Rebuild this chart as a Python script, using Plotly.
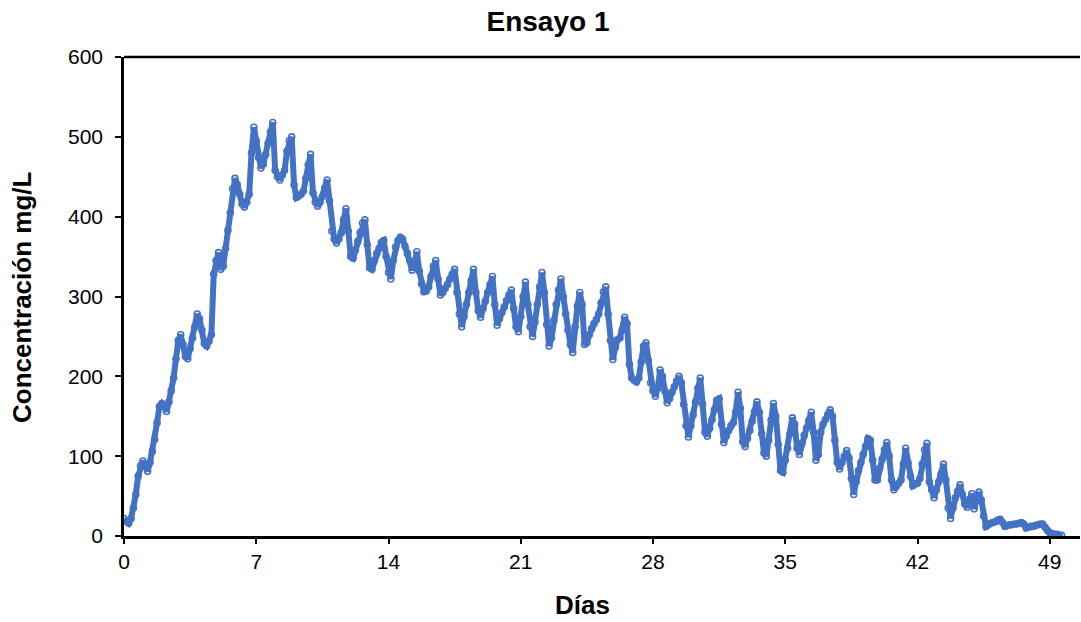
import plotly.graph_objects as go

# Concentration readings, 8 per day (every 3 h), one row per day
conc_by_day = [
    [22, 18, 16, 22, 35, 52, 75, 88],            # 0
    [94, 88, 81, 92, 106, 121, 142, 162],        # 1
    [166, 162, 156, 168, 182, 198, 222, 245],    # 2
    [252, 240, 225, 222, 235, 248, 262, 278],    # 3
    [272, 258, 241, 238, 244, 252, 328, 345],    # 4
    [355, 334, 338, 360, 383, 405, 435, 448],    # 5
    [440, 428, 416, 412, 418, 428, 480, 512],    # 6
    [495, 474, 461, 466, 478, 492, 506, 518],    # 7
    [458, 450, 446, 452, 458, 482, 495, 500],    # 8
    [440, 424, 426, 428, 432, 448, 465, 478],    # 9
    [430, 418, 413, 418, 425, 436, 446, 420],    # 10
    [382, 372, 367, 372, 380, 396, 410, 382],    # 11
    [350, 348, 358, 369, 380, 392, 396, 365],    # 12
    [336, 334, 345, 354, 360, 368, 370, 350],    # 13
    [330, 322, 345, 362, 370, 374, 372, 363],    # 14
    [354, 345, 333, 340, 356, 332, 316, 306],    # 15
    [307, 312, 325, 338, 345, 322, 302, 305],    # 16
    [310, 315, 322, 328, 334, 305, 278, 262],    # 17
    [275, 290, 305, 320, 334, 305, 282, 274],    # 18
    [285, 294, 305, 315, 325, 290, 264, 272],    # 19
    [280, 287, 295, 302, 308, 285, 262, 256],    # 20
    [275, 300, 318, 290, 262, 250, 268, 290],    # 21
    [312, 330, 305, 265, 238, 248, 270, 290],    # 22
    [308, 322, 300, 278, 258, 240, 230, 262],    # 23
    [288, 305, 290, 240, 242, 252, 260, 266],    # 24
    [271, 278, 292, 306, 312, 278, 245, 221],    # 25
    [236, 246, 248, 258, 274, 266, 215, 198],    # 26
    [195, 193, 198, 218, 238, 242, 220, 192],    # 27
    [182, 175, 185, 208, 200, 182, 167, 172],    # 28
    [180, 187, 194, 200, 192, 165, 138, 124],    # 29
    [138, 152, 168, 185, 198, 165, 130, 125],    # 30
    [135, 146, 158, 170, 172, 140, 117, 125],    # 31
    [132, 138, 142, 155, 180, 160, 118, 112],    # 32
    [122, 132, 144, 156, 168, 155, 128, 104],    # 33
    [100, 120, 145, 166, 150, 115, 82, 80],      # 34
    [95, 110, 128, 148, 140, 110, 102, 116],     # 35
    [126, 135, 145, 155, 130, 95, 102, 130],     # 36
    [140, 146, 152, 158, 150, 120, 92, 84],      # 37
    [92, 100, 107, 98, 72, 52, 68, 82],          # 38
    [92, 102, 112, 122, 120, 95, 70, 70],        # 39
    [85, 96, 108, 117, 100, 70, 58, 62],         # 40
    [66, 70, 90, 110, 92, 75, 63, 65],           # 41
    [66, 72, 90, 108, 116, 68, 58, 48],          # 42
    [58, 68, 78, 90, 70, 35, 22, 35],            # 43
    [48, 56, 64, 52, 40, 36, 46, 53],            # 44
    [34, 46, 55, 45, 25, 12, 14, 16],            # 45
    [17, 18, 20, 21, 17, 12, 13, 14],            # 46
    [14, 15, 15, 16, 17, 15, 10, 11],            # 47
    [12, 12, 13, 14, 15, 15, 11, 7],             # 48
    [4, 3, 2, 2, 1, 1],                          # 49
]

readings_per_day = 8
concentracion = [v for row in conc_by_day for v in row]
dias = [i / readings_per_day for i in range(len(concentracion))]

x_ticks = [0, 7, 14, 21, 28, 35, 42, 49]
y_ticks = [0, 100, 200, 300, 400, 500, 600]

FONT = "Liberation Sans, Arial, sans-serif"
BLUE = "#4472C4"

fig = go.Figure()
# Thick band following the readings
fig.add_trace(go.Scatter(
    x=dias,
    y=concentracion,
    mode="lines",
    line=dict(color=BLUE, width=6),
    hoverinfo="skip",
    showlegend=False,
))
# Individual readings as open circles joined by a thin line
fig.add_trace(go.Scatter(
    x=dias,
    y=concentracion,
    mode="lines+markers",
    line=dict(color=BLUE, width=1.5),
    marker=dict(symbol="circle-open", size=6, color=BLUE, line=dict(width=1.6, color=BLUE)),
    showlegend=False,
))

axis_common = dict(
    tickmode="array",
    ticks="outside",
    tickwidth=2,
    tickcolor="black",
    showline=True,
    linecolor="black",
    linewidth=2.5,
    showgrid=False,
    zeroline=False,
    tickfont=dict(size=21),
)

fig.update_layout(
    width=1081,
    height=622,
    margin=dict(l=124, r=1, t=57, b=86),
    paper_bgcolor="white",
    plot_bgcolor="white",
    font=dict(family=FONT, color="black", size=21),
    title=dict(
        text="<b>Ensayo 1</b>",
        font=dict(family=FONT, size=28, color="black"),
        x=548 / 1081, xref="container", xanchor="center",
        y=1 - 21 / 622, yref="container", yanchor="middle",
    ),
    xaxis=dict(
        range=[0, 50.6],
        tickvals=x_ticks,
        ticktext=[str(t) for t in x_ticks],
        ticklen=5,
        **axis_common,
    ),
    yaxis=dict(
        range=[0, 600],
        tickvals=y_ticks,
        ticktext=[str(t) for t in y_ticks],
        ticklen=6,
        ticklabelstandoff=8,
        **axis_common,
    ),
    annotations=[
        dict(
            text="<b>Días</b>", xref="paper", yref="paper",
            x=0.480, y=-0.144, xanchor="center", yanchor="middle",
            showarrow=False, font=dict(size=26),
        ),
        dict(
            text="<b>Concentración mg/L</b>", xref="paper", yref="paper",
            x=-0.1067, y=0.499, xanchor="center", yanchor="middle",
            textangle=-90, showarrow=False, font=dict(size=26),
        ),
    ],
)

# Upper border of the plot area
fig.add_shape(
    type="line", xref="paper", yref="paper",
    x0=0, x1=1, y0=1, y1=1,
    line=dict(color="black", width=2.5),
)

fig.write_html("out.html")
